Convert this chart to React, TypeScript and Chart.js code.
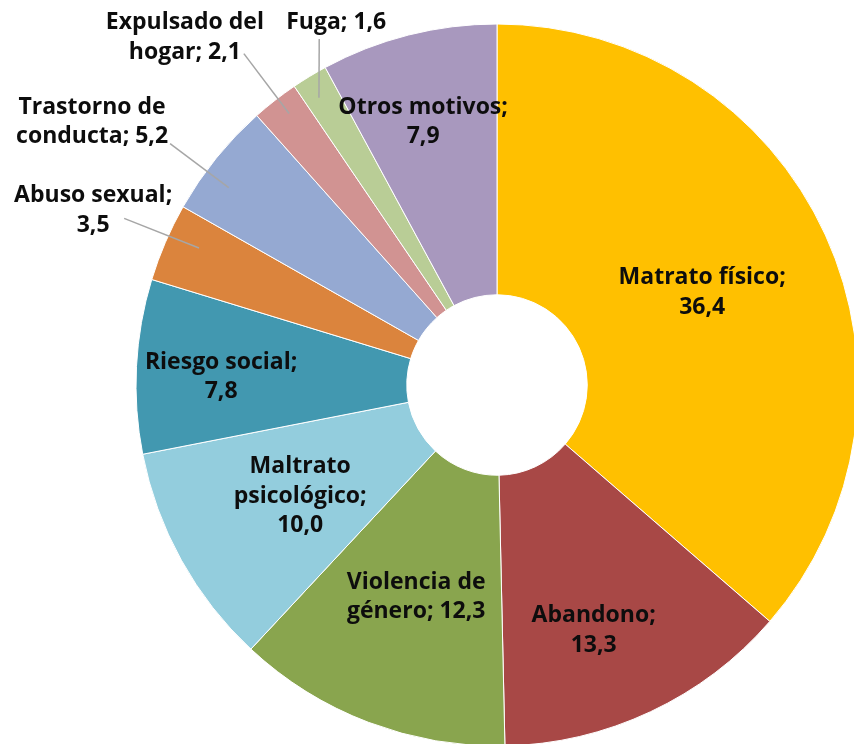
import React, { useEffect, useRef } from 'react';
import { Chart, registerables } from 'chart.js';
Chart.register(...registerables);

const categories = [
  'Matrato físico',
  'Abandono',
  'Violencia de género',
  'Maltrato psicológico',
  'Riesgo social',
  'Abuso sexual',
  'Trastorno de conducta',
  'Expulsado del hogar',
  'Fuga',
  'Otros motivos',
];
const values = [36.4, 13.3, 12.3, 10.0, 7.8, 3.5, 5.2, 2.1, 1.6, 7.9];
const colors = [
  '#FFC000', '#A84846', '#89A54E', '#93CDDD', '#4298B0',
  '#DB843D', '#95A9D2', '#D19392', '#B9CD96', '#A898BE',
];
// words per line of each label
const labelBreaks = [[2, 1], [1, 1], [2, 2], [1, 1, 1], [2, 1], [2, 1], [2, 2], [2, 2], [2], [2, 1]];

// label layout: radius (px) and angle offset (deg) from slice middle; optional leader line
type Lay = { r: number; da: number; line?: { sx: number; sy: number; er: number; eda: number } };
const labelLayout: Lay[] = [
  { r: 225, da: 0.3 },
  { r: 264, da: 3.7 },
  { r: 227, da: 0 },
  { r: 226, da: -0.4 },
  { r: 276, da: -1.3 },
  { r: 440, da: 0.1, line: { sx: 31, sy: 8, er: 328, eda: 1.4 } },
  { r: 483, da: -5.9, line: { sx: 78, sy: 22, er: 333, eda: -2.6 } },
  { r: 467, da: -4, line: { sx: 59, sy: 16, er: 342, eda: 0.5 } },
  { r: 397, da: 7.4, line: { sx: -17, sy: 17, er: 338, eda: -0.5 } },
  { r: 273, da: -1.5 },
];

const fmt = (v: number) => v.toFixed(1).replace('.', ',');

function buildLines(i: number): string[] {
  const words = `${categories[i]}; ${fmt(values[i])}`.split(' ');
  const out: string[] = [];
  let k = 0;
  for (const n of labelBreaks[i]) {
    out.push(words.slice(k, k + n).join(' '));
    k += n;
  }
  return out;
}

const labelPlugin = {
  id: 'sliceLabels',
  afterDatasetsDraw(chart: any) {
    const ctx = chart.ctx as CanvasRenderingContext2D;
    const meta = chart.getDatasetMeta(0);
    ctx.save();
    ctx.font = 'bold 23px "Open Sans"';
    ctx.textAlign = 'center';
    ctx.textBaseline = 'middle';
    const lh = 29.5;
    meta.data.forEach((arc: any, i: number) => {
      const lay = labelLayout[i];
      const mid = (arc.startAngle + arc.endAngle) / 2;
      const a = mid + (lay.da * Math.PI) / 180;
      const cx = arc.x + lay.r * Math.cos(a);
      const cy = arc.y + lay.r * Math.sin(a);
      const lines = buildLines(i);
      if (lay.line) {
        const ea = mid + (lay.line.eda * Math.PI) / 180;
        ctx.strokeStyle = '#A6A6A6';
        ctx.lineWidth = 1.5;
        ctx.beginPath();
        ctx.moveTo(cx + lay.line.sx, cy + lay.line.sy);
        ctx.lineTo(arc.x + lay.line.er * Math.cos(ea), arc.y + lay.line.er * Math.sin(ea));
        ctx.stroke();
      }
      ctx.fillStyle = '#0D0D0D';
      const y0 = cy - ((lines.length - 1) * lh) / 2;
      lines.forEach((t, j) => ctx.fillText(t, cx, y0 + j * lh));
    });
    ctx.restore();
  },
};

export default function App() {
  const ref = useRef<HTMLCanvasElement>(null);
  useEffect(() => {
    if (!ref.current) return;
    const chart = new Chart(ref.current, {
      type: 'doughnut',
      data: {
        labels: categories,
        datasets: [
          {
            data: values,
            backgroundColor: colors,
            borderColor: '#FFFFFF',
            borderWidth: 1,
            clip: false as any,
          },
        ],
      },
      options: {
        responsive: false,
        animation: false,
        radius: 361,
        cutout: '25%',
        layout: { padding: { left: 140, right: 0, top: 26, bottom: 0 } },
        plugins: { legend: { display: false }, tooltip: { enabled: false } },
      } as any,
      plugins: [labelPlugin],
    });
    return () => chart.destroy();
  }, []);
  return (
    <div style={{ position: 'absolute', left: 0, top: 0, width: 854, height: 744, overflow: 'hidden', background: '#FFFFFF' }}>
      <canvas ref={ref} width={854} height={744} style={{ width: 854, height: 744 }} />
    </div>
  );
}
